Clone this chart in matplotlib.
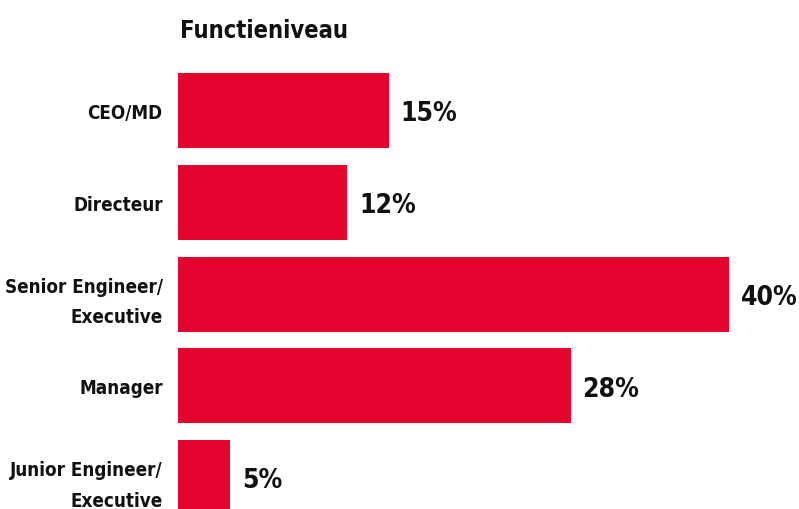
import matplotlib
matplotlib.use("Agg")
import matplotlib.pyplot as plt

# data
categories = ["CEO/MD", "Directeur", "Senior Engineer/\nExecutive", "Manager",
              "Junior Engineer/\nExecutive"]
values = [15.3, 12.3, 40.0, 28.5, 3.8]
value_labels = ["15%", "12%", "40%", "28%", "5%"]
title = "Functieniveau"

RED = "#E4032E"
plt.rcParams['font.family'] = ['DejaVu Sans']
plt.rcParams['font.weight'] = 'bold'
plt.rcParams['font.stretch'] = 'condensed'

W, H = 799, 510
fig = plt.figure(figsize=(W / 100, H / 100), dpi=100)
# axes placed in pixels: left 178, top 74, right edge of figure, bottom of figure
left, top = 178, 74
ax = fig.add_axes([left / W, 0, (W - left) / W, (H - top) / H])

pitch = 91.75
bar_h = 75 / pitch
ypos = list(range(len(categories)))
ax.barh(ypos, values, height=bar_h, color=RED)

px_per_unit = 551 / 40.0
ax.set_xlim(0, (W - left) / px_per_unit)
ax.set_ylim(-bar_h / 2 + (H - top) / pitch, -bar_h / 2)

for y, v, lab in zip(ypos, values, value_labels):
    ax.text(v + 12 / px_per_unit, y + 0.03, lab, va="center", ha="left",
            fontsize=19, fontweight="bold", color="#111111", clip_on=False)

ax.set_yticks(ypos)
ax.set_yticklabels(categories, fontsize=13.5, fontweight="bold", color="#111111",
                   linespacing=1.75)
ax.tick_params(axis="y", length=0, pad=11)
ax.set_xticks([])
for s in ax.spines.values():
    s.set_visible(False)

fig.text(180 / W, 1 - 31 / H, title, ha="left", va="center", fontsize=17,
         fontweight="bold", color="#111111")

fig.savefig("out.png", dpi=100)
